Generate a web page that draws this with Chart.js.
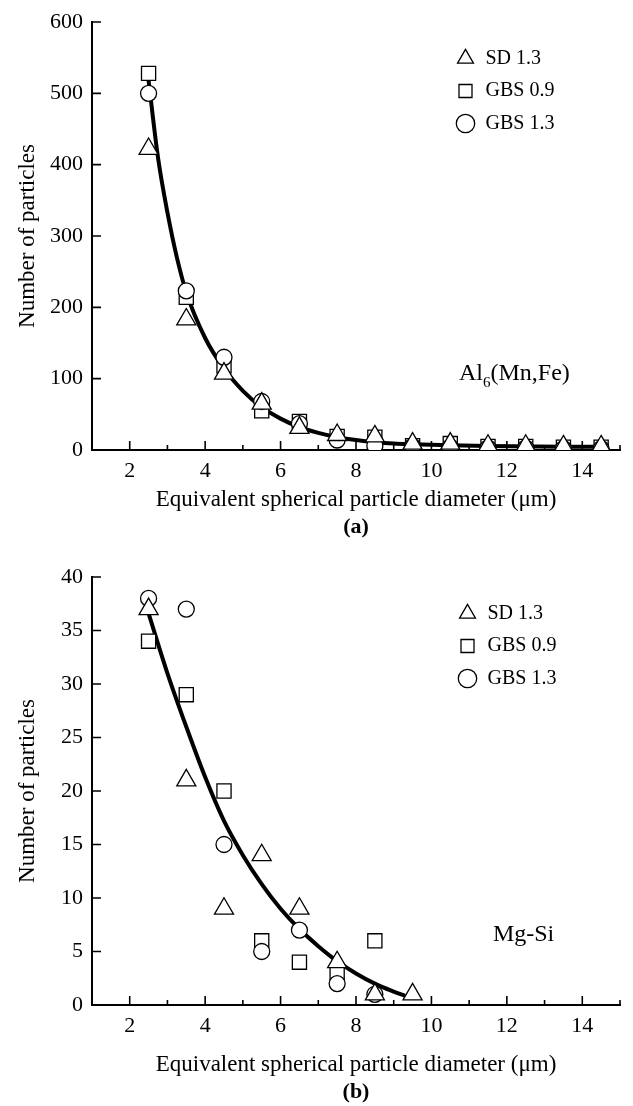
<!DOCTYPE html>
<html>
<head>
<meta charset="utf-8">
<title>Particle size distributions</title>
<script src="https://cdn.jsdelivr.net/npm/chart.js@4.4.1/dist/chart.umd.min.js"></script>
<style>
  html, body { margin: 0; padding: 0; background: #fff; }
  .panel { position: absolute; left: 0; width: 633px; height: 553px; }
  #panelA { top: 0; }
  #panelB { top: 553px; }
</style>
</head>
<body>
<div class="panel" id="panelA"><canvas id="chartA" width="633" height="553"></canvas></div>
<div class="panel" id="panelB"><canvas id="chartB" width="633" height="553"></canvas></div>
<script>
// Panel (a): Al6(Mn,Fe) particles
const xA = [2.5, 3.5, 4.5, 5.5, 6.5, 7.5, 8.5, 9.5, 10.5, 11.5, 12.5, 13.5, 14.5];
const sdA = [422, 183, 107, 65, 31, 21, 19, 9, 9, 6, 6, 5, 5];
const gbs09A = [528, 214, 118, 55, 40, 19, 18, 6, 9, 5, 5, 4, 4];
const gbs13A = [500, 223, 130, 68, 37, 14, 6, 5, 4, 3, 3, 2, 2];
const fitAX = [2.5, 2.75, 3, 3.25, 3.5, 4, 4.5, 5, 5.5, 6, 6.5, 7, 7.5, 8, 8.5, 9, 9.5, 10.5, 11.5, 12.5, 13.5, 14.5];
const fitAY = [518, 410, 333, 270, 221, 157, 114, 83, 60, 44, 32, 24, 18, 14, 11, 9, 8, 6.5, 5.5, 5, 4.5, 4.5];

// Panel (b): Mg-Si particles
const sdBX = [2.5, 3.5, 4.5, 5.5, 6.5, 7.5, 8.5, 9.5];
const sdB = [37, 21, 9, 14, 9, 4, 1, 1];
const gbsBX = [2.5, 3.5, 4.5, 5.5, 6.5, 7.5, 8.5];
const gbs09B = [34, 29, 20, 6, 4, 3, 6];
const gbs13B = [38, 37, 15, 5, 7, 2, 1];
const fitBX = [2.5, 3, 3.5, 4, 4.5, 5, 5.5, 6, 6.5, 7, 7.5, 8, 8.5, 9, 9.3];
const fitBY = [36.6, 31, 26, 21.3, 17.2, 14, 11.3, 9, 7.1, 5.5, 4.1, 2.95, 2, 1.25, 0.85];

const seriesNames = ['SD 1.3', 'GBS 0.9', 'GBS 1.3'];
const xTitle = 'Equivalent spherical particle diameter (\u03bcm)';
const yTitle = 'Number of particles';

Chart.defaults.font.family = "'Liberation Serif', 'Times New Roman', serif";
Chart.defaults.color = '#000';

const pts = (xs, ys) => xs.map((x, i) => ({ x, y: ys[i] }));

// short inward tick marks like the original plot
const inwardTicks = {
  id: 'inwardTicks',
  beforeDatasetsDraw(chart) {
    const { ctx, chartArea: a, scales: { x, y } } = chart;
    ctx.save();
    ctx.strokeStyle = '#000';
    ctx.lineWidth = 1.6;
    ctx.beginPath();
    x.ticks.forEach(t => {
      const px = x.getPixelForValue(t.value);
      const len = t.value % 2 === 0 ? 9 : 5;
      ctx.moveTo(px, a.bottom);
      ctx.lineTo(px, a.bottom - len);
    });
    y.ticks.forEach(t => {
      const py = y.getPixelForValue(t.value);
      ctx.moveTo(a.left, py);
      ctx.lineTo(a.left + 9, py);
    });
    ctx.stroke();
    ctx.restore();
  }
};

// legend sits inside the plot, top right
const legendSpot = {
  id: 'legendSpot',
  beforeDraw(chart, args, opts) {
    const lg = chart.legend;
    if (!lg) return;
    lg.left = opts.left;
    lg.top = opts.top;
    lg.right = opts.left + lg.width;
    lg.bottom = opts.top + 300;
  }
};

// phase label, e.g. Al6(Mn,Fe) with subscript
const phaseLabel = {
  id: 'phaseLabel',
  afterDraw(chart, args, opts) {
    const { ctx, scales: { x, y } } = chart;
    let px = x.getPixelForValue(opts.x);
    const py = y.getPixelForValue(opts.y);
    ctx.save();
    ctx.fillStyle = '#000';
    ctx.textBaseline = 'alphabetic';
    ctx.textAlign = 'left';
    opts.parts.forEach(p => {
      ctx.font = (p.sub ? 15 : 24) + "px 'Liberation Serif', 'Times New Roman', serif";
      ctx.fillText(p.text, px, py + (p.sub ? 7 : 0));
      px += ctx.measureText(p.text).width;
    });
    ctx.restore();
  }
};

function makePanel(id, d) {
  const marker = { backgroundColor: '#fff', borderColor: '#000', borderWidth: 1.3, showLine: false };
  return new Chart(document.getElementById(id), {
    type: 'scatter',
    data: {
      datasets: [
        { ...marker, label: seriesNames[0], data: d.sd, pointStyle: 'triangle', pointRadius: 11, order: 1 },
        { ...marker, label: seriesNames[1], data: d.g09, pointStyle: 'rect', pointRadius: 10, order: 3 },
        { ...marker, label: seriesNames[2], data: d.g13, pointStyle: 'circle', pointRadius: 8, order: 2 },
        { label: 'fit', data: d.fit, showLine: true, pointRadius: 0, borderColor: '#000',
          borderWidth: 4, cubicInterpolationMode: 'monotone', fill: false, order: 4 }
      ]
    },
    options: {
      responsive: false,
      animation: false,
      events: [],
      layout: { padding: { left: 0, right: 13, top: d.top, bottom: d.bottom } },
      scales: {
        x: {
          type: 'linear', min: 1, max: 15,
          border: { display: true, color: '#000', width: 2 },
          grid: { drawOnChartArea: false, drawTicks: false },
          ticks: { stepSize: 1, autoSkip: false, maxRotation: 0, padding: 8,
                   font: { size: 22 }, callback: v => (v % 2 === 0 ? v : '') },
          title: { display: true, text: xTitle, font: { size: 23 }, padding: 0 },
          afterFit: s => { s.height = d.xAxisH; s.paddingLeft = 0; s.paddingRight = 0; }
        },
        y: {
          type: 'linear', min: 0, max: d.yMax,
          border: { display: true, color: '#000', width: 2 },
          grid: { drawOnChartArea: false, drawTicks: false },
          ticks: { stepSize: d.yStep, padding: 9, font: { size: 22 } },
          title: { display: true, text: yTitle, font: { size: 23 }, padding: { top: 14, bottom: 0 } },
          afterFit: s => { s.width = 92; s.paddingTop = 0; s.paddingBottom = 0; }
        }
      },
      plugins: {
        legend: {
          position: 'chartArea',
          align: 'start',
          labels: {
            usePointStyle: true, boxWidth: 20, boxHeight: 13, padding: 12.5,
            font: { size: 20 },
            filter: item => item.datasetIndex < 3,
            sort: (a, b) => a.datasetIndex - b.datasetIndex
          }
        },
        legendSpot: d.legend,
        title: {
          display: true, position: 'bottom', fullSize: false, text: d.tag,
          font: { size: 22, weight: 'bold' }, padding: { top: 0, bottom: 0 }
        },
        tooltip: { enabled: false },
        phaseLabel: d.label
      }
    },
    plugins: [inwardTicks, legendSpot, phaseLabel]
  });
}

makePanel('chartA', {
  sd: pts(xA, sdA), g09: pts(xA, gbs09A), g13: pts(xA, gbs13A), fit: pts(fitAX, fitAY),
  yMax: 600, yStep: 100, top: 22, bottom: 12.8, xAxisH: 63.8, tag: '(a)',
  legend: { left: 443, top: 36 },
  label: { x: 10.73, y: 98, parts: [{ text: 'Al' }, { text: '6', sub: true }, { text: '(Mn,Fe)' }] }
});

makePanel('chartB', {
  sd: pts(sdBX, sdB), g09: pts(gbsBX, gbs09B), g13: pts(gbsBX, gbs13B), fit: pts(fitBX, fitBY),
  yMax: 40, yStep: 5, top: 24, bottom: 0.8, xAxisH: 73.8, tag: '(b)',
  legend: { left: 445, top: 38 },
  label: { x: 11.63, y: 6.0, parts: [{ text: 'Mg-Si' }] }
});
</script>
</body>
</html>
